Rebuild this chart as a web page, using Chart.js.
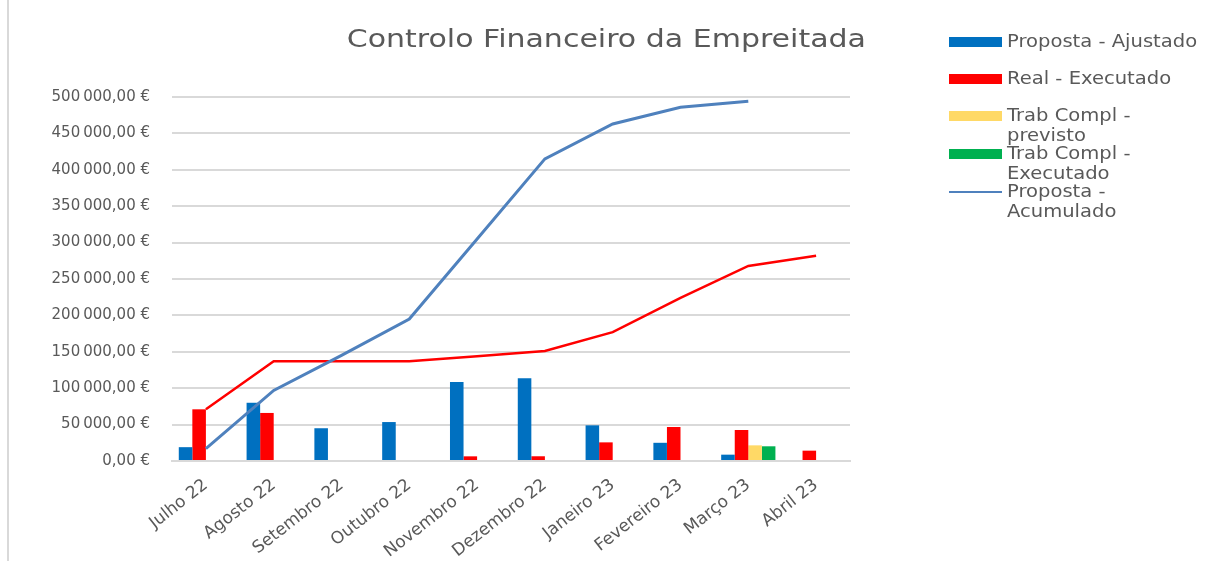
<!DOCTYPE html>
<html>
<head>
<meta charset="utf-8">
<script src="https://cdn.jsdelivr.net/npm/chart.js@4.4.0/dist/chart.umd.min.js"></script>
<style>
  html, body { margin:0; padding:0; background:#fff; }
  #wrap { position:relative; width:1206px; height:561px; overflow:hidden; }
  #frame { position:absolute; left:7px; top:0; width:2px; height:561px; background:#D9D9D9; }
  #title { position:absolute; left:0; width:1212px; top:24px; text-align:center; font-family:"DejaVu Sans", sans-serif; font-size:25px; line-height:30px; color:#595959; }
  #title span { display:inline-block; transform:scaleX(1.2); transform-origin:center; }
  #legend { position:absolute; left:949px; top:0; font-family:"DejaVu Sans", sans-serif; font-size:17px; color:#595959; }
  .item { position:absolute; left:0; white-space:nowrap; }
  .sw { position:absolute; left:0; width:53px; }
  .tx { position:absolute; left:58px; line-height:20px; transform:scaleX(1.15); transform-origin:left center; }
</style>
</head>
<body>
<div id="wrap">
  <canvas id="c" width="1206" height="561"></canvas>
  <div id="frame"></div>
  <div id="title"><span>Controlo Financeiro da Empreitada</span></div>
  <div id="legend"></div>
</div>
<script>
const categories = ['Julho 22','Agosto 22','Setembro 22','Outubro 22','Novembro 22','Dezembro 22','Janeiro 23','Fevereiro 23','Março 23','Abril 23'];
const propostaAjustado   = [19000, 80000, 45000, 53500, 108500, 113500, 49000, 25000, 8700, null];
const realExecutado      = [71000, 66000, null, null, 6400, 6500, 25600, 46700, 42600, 14200];
const trabComplPrevisto  = [null, null, null, null, null, null, null, null, 21500, null];
const trabComplExecutado = [null, null, null, null, null, null, null, null, 20200, null];
const propostaAcumulado  = [17000, 97000, 145000, 195000, 305000, 415000, 463000, 486000, 494000, null];
const realAcumulado      = [71000, 137000, 137000, 137000, 144000, 151000, 177000, 224000, 268000, 282000];
const yMin = 0, yMax = 500000, yStep = 50000;

const legendItems = [
  {text:['Proposta - Ajustado'], color:'#0070C0', type:'box', top:31},
  {text:['Real - Executado'], color:'#FF0000', type:'box', top:68},
  {text:['Trab Compl -','previsto'], color:'#FFD966', type:'box', top:105},
  {text:['Trab Compl -','Executado'], color:'#00B050', type:'box', top:143},
  {text:['Proposta -','Acumulado'], color:'#4F81BD', type:'line', top:181}
];

function fmtEuro(v){
  const s = String(Math.round(v)).replace(/\B(?=(\d{3})+(?!\d))/g, '\u202F');
  return s + ',00 €';
}

const ctx = document.getElementById('c').getContext('2d');
new Chart(ctx, {
  type: 'bar',
  data: {
    labels: categories,
    datasets: [
      {type:'line', label:'Proposta - Acumulado', data:propostaAcumulado, borderColor:'#4F81BD', borderWidth:3, pointRadius:0, tension:0, fill:false, order:0},
      {type:'line', label:'Real - Acumulado', data:realAcumulado, borderColor:'#FF0000', borderWidth:2.5, pointRadius:0, tension:0, fill:false, order:0},
      {label:'Proposta - Ajustado', data:propostaAjustado, backgroundColor:'#0070C0', order:1},
      {label:'Real - Executado', data:realExecutado, backgroundColor:'#FF0000', order:1},
      {label:'Trab Compl - previsto', data:trabComplPrevisto, backgroundColor:'#FFD966', order:1},
      {label:'Trab Compl - Executado', data:trabComplExecutado, backgroundColor:'#00B050', order:1}
    ]
  },
  options: {
    responsive:false,
    animation:false,
    layout:{ padding:{ left:0, right:356, top:97, bottom:0 } },
    datasets:{ bar:{ categoryPercentage:0.8, barPercentage:1.0 } },
    plugins:{
      legend:{ display:false },
      tooltip:{ enabled:false },
      title:{ display:false }
    },
    scales:{
      x:{
        grid:{ display:false },
        border:{ display:true, color:'#D9D9D9', width:2 },
        ticks:{ color:'#595959', font:{ family:'DejaVu Sans', size:17 }, minRotation:38, maxRotation:38, padding:6, autoSkip:false },
        afterFit(s){ s.height = 100; }
      },
      y:{
        min:yMin, max:yMax,
        grid:{ color:'#D9D9D9', lineWidth:2, drawTicks:false },
        border:{ display:false },
        ticks:{ stepSize:yStep, color:'#595959', font:{ family:'DejaVu Sans', size:15 }, padding:22, callback:(v)=>fmtEuro(v) },
        afterFit(s){ s.width = 172; }
      }
    }
  }
});

const lg = document.getElementById('legend');
legendItems.forEach(it => {
  const d = document.createElement('div');
  d.className = 'item';
  d.style.top = it.top + 'px';
  const sw = document.createElement('div');
  sw.className = 'sw';
  sw.style.background = it.color;
  if (it.type === 'box') { sw.style.top = '6px'; sw.style.height = '10px'; }
  else { sw.style.top = '10px'; sw.style.height = '2px'; }
  const tx = document.createElement('div');
  tx.className = 'tx';
  tx.innerHTML = it.text.join('<br>');
  d.appendChild(sw); d.appendChild(tx);
  lg.appendChild(d);
});
</script>
</body>
</html>
